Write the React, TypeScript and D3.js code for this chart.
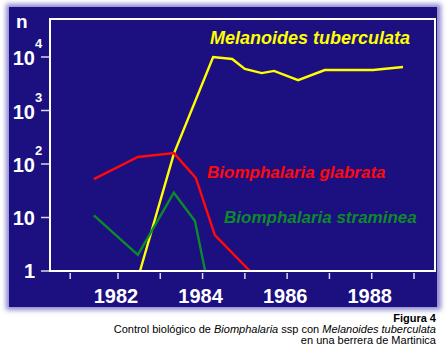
import React from 'react';
import { scaleLinear, scaleLog, line } from 'd3';

// Years and counts (log scale, n)
const melanoidesYears = [1982.52, 1983.32, 1984.25, 1984.7, 1985.0, 1985.4, 1985.69, 1986.26, 1986.89, 1988.03, 1988.74];
const melanoidesValues = [1, 155, 10000, 9200, 6000, 5000, 5500, 3700, 5700, 5700, 6500];

const glabrataYears = [1981.43, 1982.47, 1983.32, 1983.84, 1984.29, 1985.12];
const glabrataValues = [52, 135, 160, 55, 4.7, 1];

const stramineaYears = [1981.43, 1982.47, 1983.32, 1983.82, 1984.06];
const stramineaValues = [11, 2, 29, 8.6, 1];

const xTicks = [1980.87, 1982, 1983, 1984, 1985, 1986, 1987, 1988, 1989];
const xLabels = [1982, 1984, 1986, 1988];
const yTicks = [1, 10, 100, 1000, 10000];

const W = 447;
const H = 354;
const FONT = '"Liberation Sans", Arial, Helvetica, sans-serif';

const App: React.FC = () => {
  const x = scaleLinear().domain([1982, 1989]).range([118, 414]);
  const y = scaleLog().domain([1, 10000]).range([271, 57]);

  const frame = { left: 50, top: 19, right: 435, bottom: 271 };

  const makePath = (years: number[], values: number[]) =>
    line<number>()
      .x((_, i) => x(years[i]))
      .y((v) => y(v))(values) || '';

  const series = [
    { years: melanoidesYears, values: melanoidesValues, color: '#ffff00' },
    { years: glabrataYears, values: glabrataValues, color: '#ff0a0a' },
    { years: stramineaYears, values: stramineaValues, color: '#0c8a2a' },
  ];

  return (
    <svg
      width={W}
      height={H}
      style={{ position: 'absolute', left: 0, top: 0, background: '#fff' }}
      fontFamily={FONT}
    >
      <defs>
        <filter id="glow" x="-10%" y="-10%" width="120%" height="120%">
          <feGaussianBlur stdDeviation="2.5" />
        </filter>
        <clipPath id="plot">
          <rect x={frame.left} y={frame.top} width={frame.right - frame.left} height={frame.bottom - frame.top} />
        </clipPath>
      </defs>

      {/* panel with soft lavender edge */}
      <rect x={6} y={4} width={435} height={306} fill="#8c86d0" filter="url(#glow)" />
      <rect x={9} y={7} width={428} height={300} fill="#1c0f80" />

      {/* lines */}
      <g clipPath="url(#plot)">
        {series.map((s, i) => (
          <path
            key={i}
            d={makePath(s.years, s.values)}
            fill="none"
            stroke={s.color}
            strokeWidth={2.4}
            strokeLinejoin="miter"
          />
        ))}
      </g>

      {/* frame */}
      <rect
        x={frame.left}
        y={frame.top}
        width={frame.right - frame.left}
        height={frame.bottom - frame.top}
        fill="none"
        stroke="#ffffff"
        strokeWidth={2}
      />

      {/* y ticks and labels */}
      {yTicks.map((t) => {
        const ty = y(t);
        const exp = Math.round(Math.log10(t));
        return (
          <g key={t}>
            <line x1={41} x2={49} y1={ty} y2={ty} stroke="#d8d8e8" strokeWidth={1.5} />
            {exp < 2 ? (
              <text x={35} y={ty + 7} textAnchor="end" fill="#fff" fontWeight="bold" fontSize={20}>
                {String(t)}
              </text>
            ) : (
              <>
                <text x={35} y={ty + 8} textAnchor="end" fill="#fff" fontWeight="bold" fontSize={20}>
                  10
                </text>
                <text x={35} y={ty - 9} fill="#fff" fontWeight="bold" fontSize={13}>
                  {exp}
                </text>
              </>
            )}
          </g>
        );
      })}
      <text x={16} y={28} fill="#fff" fontWeight="bold" fontSize={19}>
        n
      </text>

      {/* x ticks and labels */}
      {xTicks.map((t) => (
        <line key={t} x1={x(t)} x2={x(t)} y1={273} y2={279} stroke="#d8d8e8" strokeWidth={1.5} />
      ))}
      {xLabels.map((t) => (
        <text key={t} x={x(t) - 2} y={303} textAnchor="middle" fill="#fff" fontWeight="bold" fontSize={20}>
          {t}
        </text>
      ))}

      {/* series labels */}
      <text x={210} y={44} fill="#ffff00" fontWeight="bold" fontStyle="italic" fontSize={18}>
        Melanoides tuberculata
      </text>
      <text x={207} y={178} fill="#ff0a0a" fontWeight="bold" fontStyle="italic" fontSize={17}>
        Biomphalaria glabrata
      </text>
      <text x={224} y={223} fill="#0c8a2a" fontWeight="bold" fontStyle="italic" fontSize={17}>
        Biomphalaria straminea
      </text>

      {/* caption */}
      <g fill="#000" fontSize={11} textAnchor="end">
        <text x={436} y={322} fontWeight="bold">
          Figura 4
        </text>
        <text x={436} y={333}>
          Control biológico de <tspan fontStyle="italic">Biomphalaria</tspan> ssp con{' '}
          <tspan fontStyle="italic">Melanoides tuberculata</tspan>
        </text>
        <text x={436} y={344}>
          en una berrera de Martinica
        </text>
      </g>
    </svg>
  );
};

export default App;
